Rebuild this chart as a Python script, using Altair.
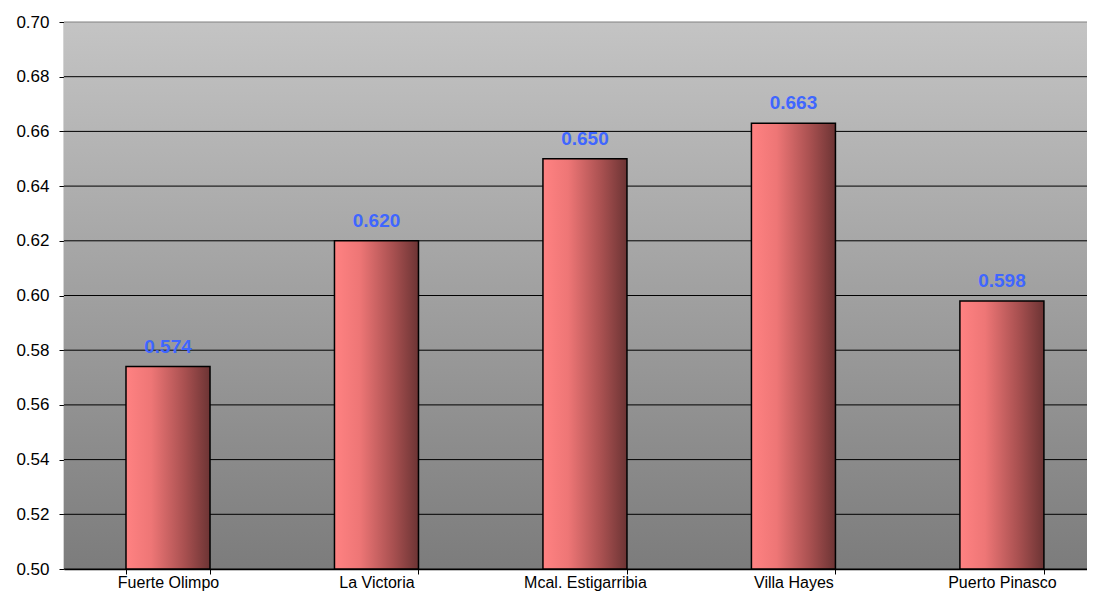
import altair as alt
import pandas as pd

categories = ["Fuerte Olimpo", "La Victoria", "Mcal. Estigarribia", "Villa Hayes", "Puerto Pinasco"]
values = [0.574, 0.620, 0.650, 0.663, 0.598]
labels = ["0.574", "0.620", "0.650", "0.663", "0.598"]
y_ticks = [0.50, 0.52, 0.54, 0.56, 0.58, 0.60, 0.62, 0.64, 0.66, 0.68, 0.70]

df = pd.DataFrame({"cat": categories, "val": values, "lab": labels})
grid_df = pd.DataFrame({"v": y_ticks})

W = 1023
H = 547
FONT = "Liberation Sans"

x_scale = alt.Scale(paddingInner=0.597, paddingOuter=0.252, align=0.59)
x_enc = alt.X(
    "cat:N",
    sort=categories,
    title=None,
    scale=x_scale,
    axis=alt.Axis(
        labelAngle=0, labelFont=FONT, labelFontSize=16, labelColor="black",
        labelPadding=0, labelBaseline="top", tickBand="extent", tickColor="black",
        tickSize=5, domainColor="black", domainWidth=1.5, grid=False,
    ),
)
y_scale = alt.Scale(domain=[0.5, 0.7], zero=False, nice=False)
y_axis = alt.Axis(
    values=y_ticks, format=".2f", labelFont=FONT, labelFontSize=17,
    labelColor="black", labelPadding=10, tickColor="black", tickSize=5,
    domainColor="#555555", domainWidth=1.5, grid=False,
)

bg = alt.Chart(pd.DataFrame({"a": [0]})).mark_rect(
    color=alt.Gradient(
        gradient="linear", x1=0, x2=0, y1=0, y2=1,
        stops=[alt.GradientStop(color="#c4c4c4", offset=0),
               alt.GradientStop(color="#7c7c7c", offset=1)],
    )
).encode(x=alt.value(0), x2=alt.value(W), y=alt.value(0), y2=alt.value(H))

grid = alt.Chart(grid_df).mark_rule(strokeWidth=1).encode(
    y=alt.Y("v:Q", title=None, scale=y_scale, axis=y_axis),
    color=alt.condition(alt.datum.v > 0.699, alt.value("#808080"), alt.value("black")),
    strokeWidth=alt.condition(alt.datum.v > 0.699, alt.value(2), alt.value(1)),
)

bars = alt.Chart(df).mark_bar(
    color=alt.Gradient(
        gradient="linear", x1=0, x2=1, y1=0, y2=0,
        stops=[alt.GradientStop(color="#ff8282", offset=0),
               alt.GradientStop(color="#ee7676", offset=0.3),
               alt.GradientStop(color="#a85050", offset=0.7),
               alt.GradientStop(color="#6c3434", offset=1)],
    ),
    stroke="black", strokeWidth=1.5,
).encode(
    x=x_enc,
    y=alt.Y("val:Q", scale=y_scale),
    y2=alt.datum(0.5),
)

text = alt.Chart(df).mark_text(
    font=FONT, fontSize=19, fontWeight="bold", color="#3f66ff",
    baseline="bottom", dy=-10,
).encode(
    x=alt.X("cat:N", sort=categories),
    y=alt.Y("val:Q", scale=y_scale),
    text="lab:N",
)

chart = alt.layer(bg, grid, bars, text).properties(
    width=W, height=H,
    autosize=alt.AutoSizeParams(type="none"),
    padding={"left": 56, "top": 14, "right": 0, "bottom": 23},
).configure_view(stroke=None).configure(background="white")

chart.save("out.html", embed_options={"renderer": "svg", "actions": False})
